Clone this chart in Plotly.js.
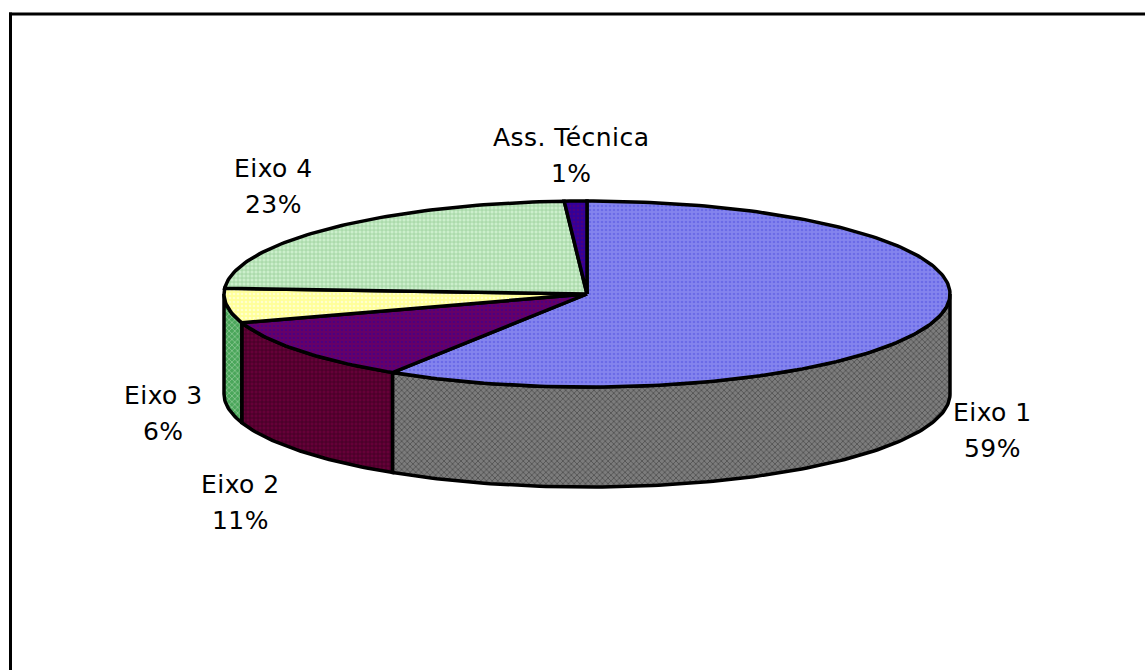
<!DOCTYPE html>
<html>
<head>
<meta charset="utf-8">
<script src="https://cdn.plot.ly/plotly-3.0.1.min.js"></script>
<style>
html,body{margin:0;padding:0;background:#fff;overflow:hidden}
#chart{width:1145px;height:670px}
.annotation-text{letter-spacing:0.45px}
</style>
</head>
<body>
<div id="chart"></div>
<script>
// Shares of the programme budget by axis, clockwise from twelve o'clock.
const categories = ["Eixo 1", "Eixo 2", "Eixo 3", "Eixo 4", "Ass. Técnica"];
const shares = [59, 11, 6, 23, 1];
const labelX = [992, 240, 163, 273, 571];
const labelY = [412, 484, 395, 168, 137];
const labelLineGap = 36;

const topColors = ["#8484ee", "#660066", "#ffff99", "#ccefcc", "#330099"];
const topDots   = ["#5252e0", "#330099", "#ffffff", "#66b066", "#660066"];
const topShapes = [".", ".", ".", "+", "."];
const sideColors = ["#7c7c7c", "#660038", "#4aa65a", "#ccefcc", "#330099"];
const sideDots   = ["#1c1c1c", "#14000c", "#d0ead0", "#66b066", "#660066"];
const sideShapes = ["x", "+", "x", "+", "."];

// Cylinder projection in plot units (one unit = one pixel).
const cx = 587, cy = 294, rx = 363, ry = 93, depth = 100;
const rimPoint = deg => {
  const a = deg * Math.PI / 180;
  return [cx + rx * Math.sin(a), cy - ry * Math.cos(a)];
};
const arc = (from, to) => {
  const pts = [];
  const n = Math.max(2, Math.ceil(Math.abs(to - from)));
  for (let i = 0; i <= n; i++) pts.push(rimPoint(from + (to - from) * i / n));
  return pts;
};

const total = shares.reduce((s, v) => s + v, 0);
let running = 0;
const slices = shares.map(v => {
  const from = running / total * 360;
  running += v;
  return {from, to: running / total * 360};
});

const outline = {color: "#000000", width: 3.5};
const pattern = (shape, bg, fg) => ({shape, bgcolor: bg, fgcolor: fg, size: 4, solidity: 0.35, fillmode: "overlay"});
const traces = [];

// Walls are only visible on the near half of the rim (90° to 270°).
slices.forEach((s, i) => {
  const from = Math.max(s.from, 90), to = Math.min(s.to, 270);
  if (to <= from) return;
  const near = arc(from, to);
  const poly = near.concat(near.slice().reverse().map(p => [p[0], p[1] + depth]));
  poly.push(near[0]);
  traces.push({
    type: "scatter", mode: "lines", fill: "toself", hoverinfo: "skip",
    x: poly.map(p => p[0]), y: poly.map(p => p[1]),
    line: outline, fillcolor: sideColors[i],
    fillpattern: pattern(sideShapes[i], sideColors[i], sideDots[i])
  });
});

// Top face wedges.
slices.forEach((s, i) => {
  const poly = [[cx, cy]].concat(arc(s.from, s.to), [[cx, cy]]);
  traces.push({
    type: "scatter", mode: "lines", fill: "toself", hoverinfo: "skip",
    x: poly.map(p => p[0]), y: poly.map(p => p[1]),
    line: outline, fillcolor: topColors[i],
    fillpattern: pattern(topShapes[i], topColors[i], topDots[i])
  });
});

// Each label is two lines: the axis name and its share.
const labelFont = {family: "DejaVu Sans", size: 25, color: "#000000"};
const annotations = categories.flatMap((c, i) => [
  {x: labelX[i], y: labelY[i], xref: "x", yref: "y", text: c, showarrow: false, font: labelFont},
  {x: labelX[i], y: labelY[i] + labelLineGap, xref: "x", yref: "y",
   text: Math.round(shares[i] / total * 100) + "%", showarrow: false, font: labelFont}
]);

// Border runs along the top and left only; the other two sides fall outside the page.
const layout = {
  width: 1145, height: 670,
  margin: {l: 0, r: 0, t: 0, b: 0},
  paper_bgcolor: "#ffffff", plot_bgcolor: "#ffffff",
  showlegend: false,
  xaxis: {range: [0, 1145], visible: false, fixedrange: true},
  yaxis: {range: [670, 0], visible: false, fixedrange: true},
  annotations,
  shapes: [
    {type: "line", xref: "x", yref: "y", x0: 9, y0: 14, x1: 1145, y1: 14, line: {color: "#000000", width: 3}},
    {type: "line", xref: "x", yref: "y", x0: 10.5, y0: 12.5, x1: 10.5, y1: 670, line: {color: "#000000", width: 3}}
  ]
};
Plotly.newPlot("chart", traces, layout, {displayModeBar: false, staticPlot: true});
</script>
</body>
</html>
